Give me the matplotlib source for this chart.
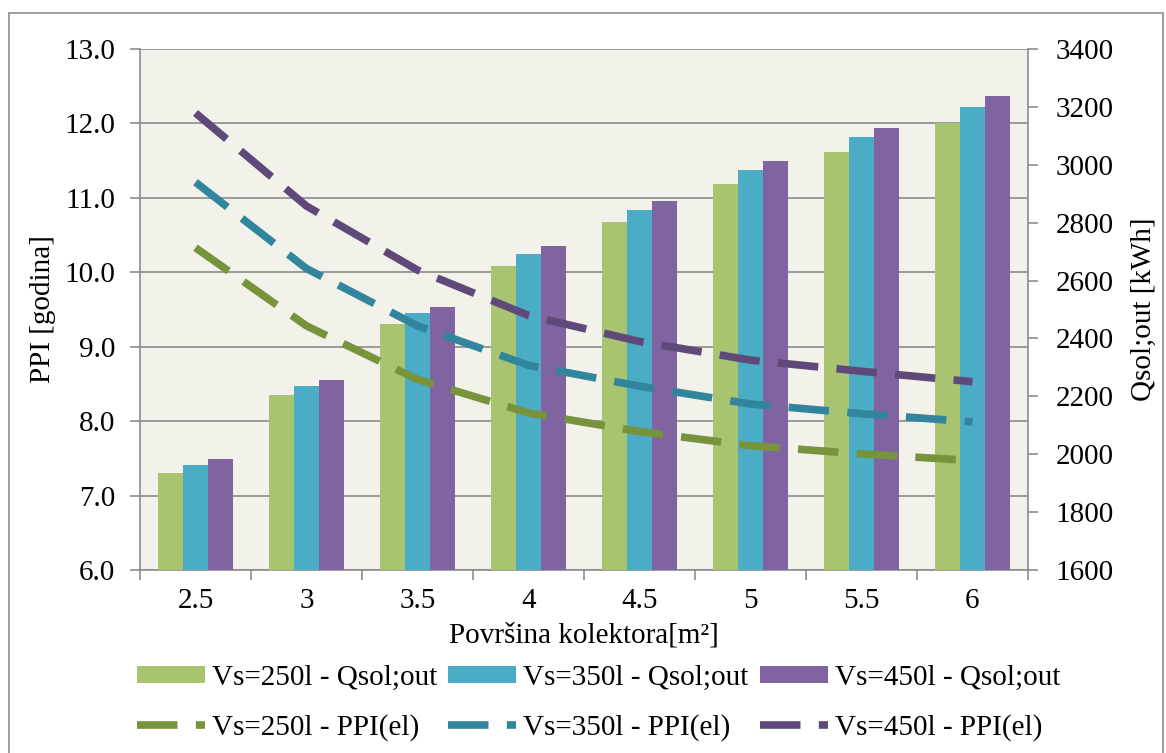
import numpy as np
import matplotlib.pyplot as plt
from matplotlib.patches import Rectangle

plt.rcParams['font.family'] = 'Liberation Serif'
plt.rcParams['font.serif'] = ['Liberation Serif', 'DejaVu Serif']

povrsina = ['2.5', '3', '3.5', '4', '4.5', '5', '5.5', '6']

# Qsol;out [kWh] - bars, right axis
q_250 = [1934, 2205, 2451, 2652, 2801, 2935, 3045, 3146]
q_350 = [1962, 2235, 2487, 2693, 2844, 2981, 3095, 3200]
q_450 = [1983, 2256, 2509, 2719, 2875, 3014, 3128, 3238]

# PPI(el) [godina] - dashed lines, left axis
ppi_250 = [10.33, 9.28, 8.56, 8.11, 7.86, 7.67, 7.56, 7.47]
ppi_350 = [11.21, 10.05, 9.28, 8.75, 8.47, 8.23, 8.10, 7.99]
ppi_450 = [12.14, 10.89, 10.03, 9.42, 9.07, 8.82, 8.67, 8.53]

bar_colors = ['#A9C470', '#4BACC6', '#8064A2']
line_colors = ['#77933C', '#31859C', '#5F497A']
grid_col = '#8C8C8C'
fs = 21
ff = 'Liberation Serif'

fig = plt.figure(figsize=(11.66, 7.53), dpi=100)
fig.patches.append(Rectangle((9 / 1166, -0.02), 1154 / 1166, 1 - 13 / 753 + 0.02,
                             transform=fig.transFigure, fill=False,
                             edgecolor='#8C8C8C', lw=1.2))

pos = [140 / 1166, 1 - 570 / 753, 888 / 1166, 521 / 753]
ax = fig.add_axes(pos)
ax.set_facecolor('#F2F1EA')
x = np.arange(len(povrsina))

# background axes: left scale, gridlines
ax.set_ylim(6, 13)
ax.set_yticks(np.arange(6, 13.1, 1))
ax.set_yticklabels(['%.1f' % v for v in np.arange(6, 13.1, 1)], fontsize=fs, family=ff)
ax.yaxis.grid(True, color=grid_col, lw=1.2)
ax.set_axisbelow(True)
ax.set_xlim(-0.5, len(povrsina) - 0.5)
ax.set_xticks(np.arange(-0.5, len(povrsina)))
ax.set_xticklabels([])
ax.set_xticks(x, minor=True)
ax.set_xticklabels(povrsina, minor=True, fontsize=fs, family=ff)
ax.tick_params(axis='x', which='minor', length=0, pad=13)
ax.tick_params(axis='x', which='major', length=7, color=grid_col, width=1.2)
ax.tick_params(axis='y', length=7, color=grid_col, width=1.2, pad=11)
ax.set_ylabel('PPI [godina]', fontsize=fs, family=ff, labelpad=6)
ax.set_xlabel('Površina kolektora[m²]', fontsize=fs, family=ff, labelpad=6)
for s in ['left', 'bottom', 'right']:
    ax.spines[s].set_color(grid_col)
    ax.spines[s].set_linewidth(1.2)
ax.spines['top'].set_visible(False)

# bars on right scale
axb = ax.twinx()
axb.set_ylim(1600, 3400)
yt = np.arange(1600, 3401, 200)
axb.set_yticks(yt)
axb.set_yticklabels([str(v) for v in yt], fontsize=fs, family=ff)
axb.tick_params(axis='y', length=7, color=grid_col, width=1.2, pad=13)
axb.set_ylabel('Qsol;out [kWh]', fontsize=fs, family=ff, labelpad=12)
for s in axb.spines.values():
    s.set_visible(False)
w = 0.223
b1 = axb.bar(x - w, q_250, w, color=bar_colors[0], label='Vs=250l - Qsol;out')
b2 = axb.bar(x, q_350, w, color=bar_colors[1], label='Vs=350l - Qsol;out')
b3 = axb.bar(x + w, q_450, w, color=bar_colors[2], label='Vs=450l - Qsol;out')

# lines on top, left scale
axl = ax.twinx()
axl.set_ylim(6, 13)
axl.set_yticks([])
for s in axl.spines.values():
    s.set_visible(False)
dash = (0, (5.3, 2.4))
l1, = axl.plot(x, ppi_250, color=line_colors[0], lw=5.5, ls=dash, dash_capstyle='butt',
               label='Vs=250l - PPI(el)')
l2, = axl.plot(x, ppi_350, color=line_colors[1], lw=5.5, ls=dash, dash_capstyle='butt',
               label='Vs=350l - PPI(el)')
l3, = axl.plot(x, ppi_450, color=line_colors[2], lw=5.5, ls=dash, dash_capstyle='butt',
               label='Vs=450l - PPI(el)')

handles = [b1, l1, b2, l2, b3, l3]
fig.legend(handles, [h.get_label() for h in handles], ncol=3, loc='upper left',
           bbox_to_anchor=(137 / 1166, 1 - 665 / 753), frameon=False,
           prop={'family': ff, 'size': fs},
           handlelength=2.33, handleheight=0.5, handletextpad=0.24, columnspacing=0.38,
           labelspacing=0.78, borderpad=0, borderaxespad=0)

fig.savefig('out.png', dpi=100)
